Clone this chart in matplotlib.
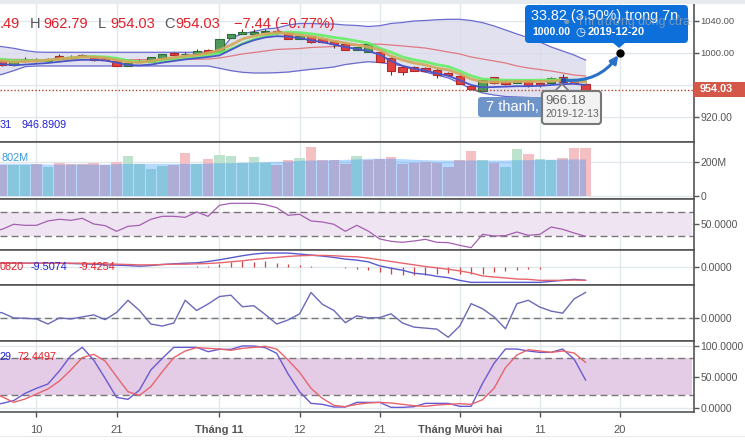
import matplotlib
matplotlib.use("Agg")
from matplotlib import pyplot as plt
from matplotlib.patches import FancyArrowPatch, FancyBboxPatch, Polygon, Rectangle
from matplotlib.transforms import Affine2D

plt.rcParams['font.family'] = ['Liberation Sans', 'DejaVu Sans']

W, H = 745, 441

# bar index 0 is the "10" tick, -4 sits just outside the left edge
bars = list(range(-4, 49))
x_ticks = [0, 7, 16, 23, 30, 37, 44, 51]
x_labels = ['10', '21', 'Tháng 11', '12', '21', 'Tháng Mười hai', '11', '20']

opens = [992.0, 991.2, 984.4, 989.4, 990.6, 989.4, 996.2, 995.6, 997.0, 995.4, 994.1, 989.6, 984.1, 989.6, 989.1, 994.1, 1000.4,
         998.2, 998.8, 1003.8, 1000.9, 1019.1, 1024.1, 1024.1, 1026.2, 1027.9, 1024.6, 1017.9, 1020.9, 1017.9, 1014.6,
         1011.6, 1003.8, 1001.6, 1000.9, 993.4, 982.9, 982.9, 980.9, 978.8, 974.6, 971.2, 958.8, 952.9, 969.6, 963.8,
         962.1, 966.2, 963.0, 962.1, 970.4, 966.2, 961.47]
closes = [990.0, 985.0, 990.0, 991.2, 990.0, 993.1, 993.1, 995.0, 994.6, 990.9, 991.2, 984.1, 987.9, 990.3, 994.6, 998.4, 997.1,
          998.9, 1002.1, 1000.4, 1017.1, 1023.8, 1026.2, 1025.9, 1027.0, 1024.6, 1017.9, 1021.2, 1013.4, 1013.4, 1010.9,
          1004.1, 1007.1, 1011.2, 989.1, 977.9, 976.6, 977.9, 977.5, 972.1, 972.5, 961.2, 954.6, 966.2, 962.1, 961.2,
          966.2, 960.4, 960.4, 969.1, 963.4, 962.1, 954.03]
highs = [993.0, 992.0, 990.5, 994.4, 994.0, 993.5, 998.8, 997.0, 998.4, 996.0, 994.5, 990.0, 988.2, 992.0, 995.0, 998.8, 1001.6,
         1001.2, 1004.6, 1005.4, 1017.4, 1024.2, 1030.0, 1030.0, 1029.6, 1028.5, 1025.0, 1021.5, 1021.2, 1018.2, 1015.5,
         1012.0, 1007.4, 1011.5, 1001.2, 995.4, 983.5, 983.8, 982.9, 980.9, 976.2, 974.6, 959.2, 966.5, 970.0, 967.1,
         967.9, 966.5, 964.0, 969.6, 973.8, 967.0, 962.79]
lows = [989.0, 984.0, 984.0, 988.5, 988.8, 989.0, 993.0, 993.8, 994.4, 990.5, 991.0, 984.0, 983.9, 988.4, 988.8, 993.8, 997.0,
        997.1, 998.5, 1000.0, 1000.5, 1018.8, 1023.9, 1023.8, 1025.9, 1024.2, 1017.5, 1017.5, 1013.0, 1013.0, 1006.6,
        1003.8, 1003.5, 1001.2, 988.8, 972.9, 972.9, 977.5, 976.2, 969.1, 971.2, 961.0, 954.2, 952.5, 961.8, 959.6,
        961.9, 957.1, 957.1, 961.8, 963.0, 961.8, 954.03]

bb_upper = [1010.0, 1007.9, 1005.9, 1003.1, 1001.2, 1000.9, 1000.9, 1000.9, 1000.9, 1000.9, 1000.9, 1000.9, 1000.9, 1000.9,
            1000.9, 1000.9, 1000.9, 1000.9, 1000.9, 1000.9, 1001.2, 1018.8, 1023.8, 1026.9, 1030.0, 1031.2, 1035.0,
            1036.9, 1036.9, 1036.2, 1036.2, 1035.0, 1034.4, 1033.1, 1034.1, 1036.9, 1038.1, 1040.0, 1040.6, 1041.6,
            1042.1, 1042.1, 1040.6, 1037.9, 1033.8, 1028.8, 1023.8, 1019.1, 1013.8, 1007.5, 1002.5, 997.5, 991.2]
bb_mid = [992.2, 992.1, 992.0, 991.9, 991.8, 991.6, 991.5, 991.5, 991.5, 991.5, 991.5, 991.5, 991.6, 991.6, 991.7, 991.8, 991.9,
          992.0, 992.2, 992.4, 993.8, 996.2, 998.8, 1000.6, 1002.5, 1004.4, 1005.0, 1005.6, 1006.9, 1007.5, 1008.1,
          1009.4, 1010.2, 1011.2, 1011.0, 1010.0, 1008.8, 1007.5, 1006.2, 1003.8, 1001.2, 998.8, 995.0, 992.5, 990.0,
          987.5, 983.8, 981.2, 979.4, 977.5, 975.0, 972.5, 971.2]
bb_lower = [970.0, 973.4, 977.9, 982.9, 983.8, 983.8, 983.8, 983.8, 983.8, 983.8, 983.8, 983.8, 983.8, 983.8, 983.8, 983.8,
            983.8, 983.8, 983.8, 983.8, 980.9, 977.9, 975.9, 975.0, 975.0, 975.4, 976.2, 977.9, 979.6, 980.9, 982.5,
            985.6, 987.5, 989.1, 988.1, 986.2, 983.8, 978.8, 976.2, 972.5, 968.8, 962.5, 955.0, 950.0, 947.5, 945.6,
            945.0, 944.4, 943.8, 943.8, 944.4, 946.2, 948.8]

ma_tan = [992.0, 990.0, 988.8, 989.4, 990.0, 991.2, 992.5, 993.8, 995.0, 995.0, 993.8, 991.2, 988.8, 988.1, 990.0, 992.5, 994.4,
          996.2, 997.5, 1000.0, 1003.8, 1010.0, 1017.5, 1021.2, 1023.8, 1025.6, 1024.4, 1022.5, 1020.6, 1018.1, 1015.0,
          1012.5, 1010.0, 1007.5, 1003.8, 996.2, 991.2, 987.5, 985.0, 981.2, 978.8, 973.8, 967.5, 963.8, 963.8, 963.8,
          964.4, 964.4, 964.4, 965.0, 965.6, 965.0, 963.8]
ma_green = [994.0, 992.0, 990.5, 990.5, 990.5, 991.0, 992.5, 994.0, 995.2, 995.6, 995.0, 993.5, 990.5, 989.0, 989.0, 990.5,
            992.5, 994.0, 995.5, 997.5, 1000.0, 1005.0, 1011.5, 1017.0, 1021.0, 1024.5, 1026.0, 1025.5, 1024.0, 1022.0,
            1019.5, 1017.5, 1015.0, 1012.5, 1006.0, 1001.0, 995.0, 991.5, 989.0, 985.5, 983.0, 977.5, 971.5, 967.5,
            966.5, 966.0, 966.0, 966.0, 966.0, 966.5, 966.5, 966.0, 965.5]
ma_blue = [988.0, 986.0, 984.8, 985.5, 986.5, 987.5, 989.0, 990.5, 991.5, 991.5, 990.5, 988.0, 985.0, 984.5, 985.5, 988.0,
           990.0, 992.0, 993.5, 995.0, 997.0, 1004.0, 1011.0, 1016.0, 1019.5, 1021.0, 1020.5, 1018.5, 1016.0, 1013.5,
           1010.5, 1007.5, 1005.0, 1002.5, 998.0, 990.0, 984.0, 980.5, 978.0, 974.5, 971.5, 966.0, 960.0, 957.0, 957.5,
           958.0, 958.5, 958.5, 959.0, 960.0, 961.0, 961.5, 960.0]

volume = [180, 180, 180, 180, 186, 171, 190, 184, 186, 192, 178, 198, 233, 186, 157, 174, 182, 251, 184, 216, 239, 233, 194,
          227, 194, 180, 210, 221, 286, 210, 210, 186, 233, 212, 216, 227, 186, 192, 198, 192, 169, 210, 263, 210, 192,
          169, 274, 245, 216, 210, 221, 280, 280]
volume_up = [0, 0, 1, 1, 0, 1, 0, 0, 0, 0, 0, 0, 1, 1, 1, 1, 0, 0, 1, 0, 1, 1, 1, 1, 1, 0, 0, 1, 0, 0, 0, 0, 1, 0, 0, 0, 0,
             0, 0, 0, 0, 0, 0, 1, 0, 1, 1, 0, 1, 1, 0, 0, 0]
volume_ma = [190, 190, 190, 190, 188, 186, 186, 186, 186, 186, 186, 188, 190, 190, 190, 190, 190, 190, 190, 192, 194, 194, 196,
             198, 200, 202, 204, 208, 210, 210, 212, 214, 216, 220, 220, 220, 218, 214, 212, 210, 210, 210, 210, 210,
             210, 210, 212, 212, 214, 214, 216, 216, 216]

rsi = [38.0, 41.4, 49.5, 47.8, 47.8, 54.9, 57.6, 55.9, 59.2, 50.0, 47.3, 38.1, 46.2, 47.8, 57.6, 62.4, 62.4, 60.8, 69.5, 62.4,
       80.3, 83.5, 83.5, 83.5, 81.4, 76.5, 64.1, 65.7, 54.9, 53.2, 49.5, 38.1, 47.8, 38.6, 25.7, 21.9, 20.3, 22.4, 25.1,
       20.3, 19.7, 15.4, 11.6, 33.2, 30.5, 31.1, 37.0, 31.6, 33.2, 45.1, 41.4, 35.4, 30.0]

macd = [2.26, 2.26, 2.26, 2.26, 2.26, 2.26, 2.26, 2.04, 1.81, 1.58, 1.13, 0.9, 0.68, 0.23, 0.68, 1.36, 1.81, 2.26, 2.49, 3.39,
        4.52, 5.88, 7.24, 8.37, 9.05, 9.05, 9.05, 8.37, 7.69, 7.01, 6.11, 4.98, 4.3, 3.17, 0.45, -1.13, -2.49, -4.52,
        -5.2, -6.56, -7.47, -9.28, -10.63, -10.63, -10.63, -10.63, -10.63, -10.63, -10.63, -9.95, -9.28, -8.6, -9.28]
signal = [2.26, 2.26, 2.26, 2.26, 2.26, 2.26, 2.26, 2.26, 2.26, 2.04, 1.81, 1.58, 1.36, 1.13, 1.13, 1.36, 1.58, 1.58, 1.81,
          2.04, 2.49, 3.17, 3.85, 4.75, 5.43, 6.11, 6.79, 7.24, 7.47, 7.47, 7.24, 6.79, 6.56, 5.66, 4.52, 3.39, 2.26,
          1.13, 0.0, -0.9, -1.81, -2.94, -4.3, -6.33, -7.01, -7.69, -8.37, -8.6, -9.28, -9.28, -9.28, -9.05, -9.28]
macd_hist = [0, 0, 0, 0, 0, 0, 0, 0, 0, 0, 0, -0.45, -0.45, -0.23, -0.23, -0.23, 0, 0, 0.45, 0.45, 1.81, 2.71, 3.85, 3.17,
             3.39, 2.26, 1.81, 0.9, 0.45, 0, -0.45, -0.9, -1.58, -2.26, -3.62, -4.98, -5.43, -5.66, -5.66, -5.2, -4.07,
             -5.2, -4.98, -4.98, -3.39, -2.71, -2.04, -1.81, -1.36, -0.45, 0, 0, 0]

cci = [30, 22.5, 0, -1.5, -4.5, -27, 0, -4.5, 4.5, 13.5, -7.5, 24, 78, 33, -27, -36, -22.5, 78, 33, 61.5, 94.5, 100.5, 49.5,
       54, 15, -27, -9, 18, 112.5, 60, 33, -21, 9, 0, 1.5, 18, -22.5, -40.5, -45, -49.5, -85.5, -36, 63, 40.5, 4.5, -48,
       63, 78, 48, 30, 21, 84, 112.5]

stoch_k = [4.0, 7.0, 11.4, 23.2, 31.4, 38.4, 59.5, 84.3, 97.8, 77.3, 47.6, 16.8, 13.5, 28.6, 61.1, 80.0, 97.8, 97.8, 97.8,
           90.8, 94.6, 94.6, 100.0, 100.0, 97.3, 88.1, 54.6, 25.9, 7.0, 5.4, 1.1, 1.1, 8.6, 8.6, 8.6, 0.5, 0.5, 1.6, 7.0,
           7.0, 7.0, 2.2, 2.2, 39.5, 71.9, 95.1, 95.1, 91.9, 89.7, 89.7, 95.1, 78.9, 44.9]
stoch_d = [22.0, 17.8, 8.6, 14.1, 22.2, 30.3, 43.2, 61.1, 81.1, 86.5, 75.7, 50.3, 25.9, 20.0, 34.1, 58.4, 81.1, 91.9, 97.3,
           96.2, 95.1, 93.0, 96.2, 97.8, 99.5, 95.1, 77.3, 57.3, 31.4, 15.1, 3.8, 1.6, 5.4, 7.6, 8.6, 7.6, 5.4, 3.2, 2.2,
           4.3, 5.4, 6.5, 5.4, 13.0, 31.4, 64.9, 85.4, 94.0, 91.9, 89.7, 91.9, 88.6, 73.5]

GRID = '#e1e8ec'
AXIS = '#555555'
TEXT = '#555555'
RED = '#e0202a'
BLUE = '#2222cc'

fig = plt.figure(figsize=(W / 100, H / 100), dpi=100)
# pixels measured from the top left corner, for the overlays
px = Affine2D().scale(1, -1).translate(0, H)


def pane(top, bottom, ymin, ymax, yticks, ylabels):
    ax = fig.add_axes([0, 1 - bottom / H, 693.5 / W, (bottom - top) / H])
    ax.set_xlim(-3.19, 57.44)
    ax.set_ylim(ymin, ymax)
    ax.set_xticks(x_ticks)
    ax.set_xticklabels([])
    ax.tick_params(axis='x', length=0)
    ax.yaxis.tick_right()
    ax.set_yticks(yticks)
    ax.set_yticklabels(ylabels, fontsize=7.5, color=TEXT)
    ax.tick_params(axis='y', length=3.6, width=1, color=AXIS, pad=1.5)
    ax.grid(True, color=GRID, lw=1)
    ax.set_axisbelow(True)
    ax.spines['left'].set_visible(False)
    for s in ['top', 'bottom', 'right']:
        ax.spines[s].set_color(AXIS)
        ax.spines[s].set_linewidth(1.2)
    return ax


# price pane
ax = pane(4, 142, 888.75, 1061.25, [920, 960, 1000, 1040], ['920.00', '', '1000.00', '1040.00'])
ax.spines['top'].set_visible(False)
for lab in ax.get_yticklabels()[2:]:
    lab.set_fontsize(6.8)
ax.fill_between(bars, bb_lower, bb_upper, color='#d8d8ea', alpha=0.75, lw=0)
ax.plot(bars, bb_upper, color='#6a6ad0', lw=0.9)
ax.plot(bars, bb_lower, color='#6a6ad0', lw=0.9)
ax.plot(bars, bb_mid, color='#e07a80', lw=0.9)
for i, b in enumerate(bars):
    up = closes[i] >= opens[i]
    face = '#4f9a5a' if up else '#e2403f'
    edge = '#2c6e3a' if up else '#b02a2a'
    ax.vlines(b, lows[i], highs[i], color='#5a3030', lw=0.8, zorder=3)
    ax.bar(b, abs(closes[i] - opens[i]), bottom=min(opens[i], closes[i]), width=0.72,
           color=face, edgecolor=edge, lw=0.8, zorder=3)
ax.plot(bars, ma_green, color='#66ee66', lw=2.0, alpha=0.9, zorder=4)
ax.plot(bars, ma_blue, color='#4a55c8', lw=1.3, zorder=4)
ax.plot(bars, ma_tan, color='#d2a75a', lw=2, alpha=0.9, zorder=4)
ax.axhline(954.03, color='#b0452f', lw=1, ls=(0, (1, 1.5)), zorder=5)
ax.add_patch(FancyArrowPatch((46, 966.18), (51, 1000), connectionstyle='arc3,rad=0.3', arrowstyle='-|>',
                             mutation_scale=11, color='#2a72c8', lw=2.2, zorder=6))
ax.plot([51], [1000], 'o', color='black', ms=5, zorder=7, clip_on=False)
ax.plot([46], [966.18], 'o', color='#2a4fa8', ms=3, zorder=7)

# volume
vol = pane(142, 199, -20, 316, [0, 200], ['0', '200M'])
vol.bar(bars, volume, width=0.92, color=['#bde3cf' if u else '#f5c0c4' for u in volume_up], zorder=2)
vol.fill_between(bars, 0, volume_ma, color='#0a84ff', alpha=0.3, lw=0, zorder=3)

# rsi
rs = pane(199, 250, 7.8, 90.5, [50], ['50.0000'])
rs.axhspan(30, 70, xmax=0.998, color='#efe4f2', lw=0, zorder=1)
rs.axhline(70, color='#777777', lw=1, ls=(0, (5, 3)), zorder=2)
rs.axhline(30, color='#777777', lw=1, ls=(0, (5, 3)), zorder=2)
rs.plot(bars, rsi, color='#a45fb0', lw=0.9, zorder=3)

# macd
md = pane(250, 285, -12.4, 11.1, [0], ['0.0000'])
md.vlines(bars, 0, macd_hist, color='#cc4444', lw=0.9, zorder=2)
md.plot(bars, macd, color='#5a5ad0', lw=1, zorder=3)
md.plot(bars, signal, color='#e8646c', lw=1, zorder=4)

# cci
cc = pane(285, 341, -102, 145.5, [0], ['0.0000'])
cc.axhline(0, color='#777777', lw=1, ls=(0, (5, 3)), zorder=2)
cc.plot(bars, cci, color='#6a6ab8', lw=1, zorder=3)

# stochastic
st = pane(341, 412, -7, 108.1, [0, 50, 100], ['0.0000', '50.0000', '100.0000'])
st.axhspan(20, 80, xmax=0.998, color='#e4cce6', lw=0, zorder=1)
st.axhline(80, color='#777777', lw=1, ls=(0, (5, 3)), zorder=2)
st.axhline(20, color='#777777', lw=1, ls=(0, (5, 3)), zorder=2)
st.plot(bars, stoch_k, color='#6a5ad0', lw=1, zorder=3)
st.plot(bars, stoch_d, color='#e8646c', lw=1, zorder=4)
st.tick_params(axis='x', length=3.6, width=1, color=AXIS, pad=6)
st.set_xticklabels(x_labels, fontsize=8, color=TEXT)
for lab, txt in zip(st.get_xticklabels(), x_labels):
    if 'Tháng' in txt:
        lab.set_fontweight('bold')


def label(x, y, s, color=TEXT, size=8, **kw):
    kw.setdefault('va', 'center')
    fig.text(x, y, s, color=color, fontsize=size, transform=px, **kw)


def box(x0, y0, x1, y1, face, edge='none', lw=0, rad=3, **kw):
    fig.add_artist(FancyBboxPatch((x0, y0), x1 - x0, y1 - y0, boxstyle='round,pad=0,rounding_size=%d' % rad,
                                  transform=px, facecolor=face, edgecolor=edge, linewidth=lw, **kw))


# strips above and below the chart
fig.add_artist(Rectangle((0, 0), W, 4, transform=px, facecolor='#e8ebee', edgecolor='none'))
fig.add_artist(Rectangle((0, 436), W, 1, transform=px, facecolor='#e8ebee', edgecolor='none'))

# legend values
label(0, 24, '.49', RED, 10.5)
label(30, 24, 'H', TEXT, 10.5)
label(43, 24, '962.79', RED, 10.5)
label(98, 24, 'L', TEXT, 10.5)
label(110, 24, '954.03', RED, 10.5)
label(164, 24, 'C', TEXT, 10.5)
label(175, 24, '954.03', RED, 10.5)
label(234, 24, '−7.44 (−0.77%)', RED, 10.5)
label(0, 125, '31', BLUE, 7.8)
label(21, 125, '946.8909', BLUE, 7.8)
label(2, 158, '802M', '#3a9ad9', 7.8)
label(0, 267, '0820', RED, 7.8)
label(31, 267, '-9.5074', BLUE, 7.8)
label(79, 267, '-9.4254', RED, 7.8)
label(0, 357, '29', BLUE, 7.8)
label(18, 357, '72.4497', RED, 7.8)

# last price tag
fig.add_artist(Rectangle((693.5, 82), 51.5, 15, transform=px, facecolor='#d4574a', edgecolor='none'))
label(700, 89.5, '954.03', 'white', 7.8, fontweight='bold')

# "7 thanh" bubble and date tooltip
box(478, 97, 548, 117, '#6f94c9')
label(486, 107, '7 thanh,', 'white', 10.5)
fig.add_artist(Polygon([[555, 91], [562, 84], [569, 91]], transform=px, facecolor='#f2f2f2', edgecolor='#777777', lw=1.2))
box(542, 91, 601, 124, '#f2f2f2', edge='#777777', lw=1.5)
label(545, 101, '966.18', '#666666', 9.5)
label(545, 114, '2019-12-13', '#666666', 7.5)

# target callout
fig.add_artist(Polygon([[612, 42], [619, 48], [626, 42]], transform=px, facecolor='#0d6fd9', edgecolor='none'))
box(525, 5, 688, 43, '#0d6fd9', rad=4)
label(531, 16, '33.82 (3.50%) trong 7n', 'white', 10.4)
label(563, 22, '●  Thị trường đóng cửa', '#9aa6b2', 8.8, alpha=0.75)
label(532, 32, '1000.00', 'white', 7.6, fontweight='bold')
label(575, 32, '◷', 'white', 8.2, family=['DejaVu Sans'])
label(588, 32, '2019-12-20', 'white', 8, fontweight='bold')

plt.savefig('out.png', dpi=100)
